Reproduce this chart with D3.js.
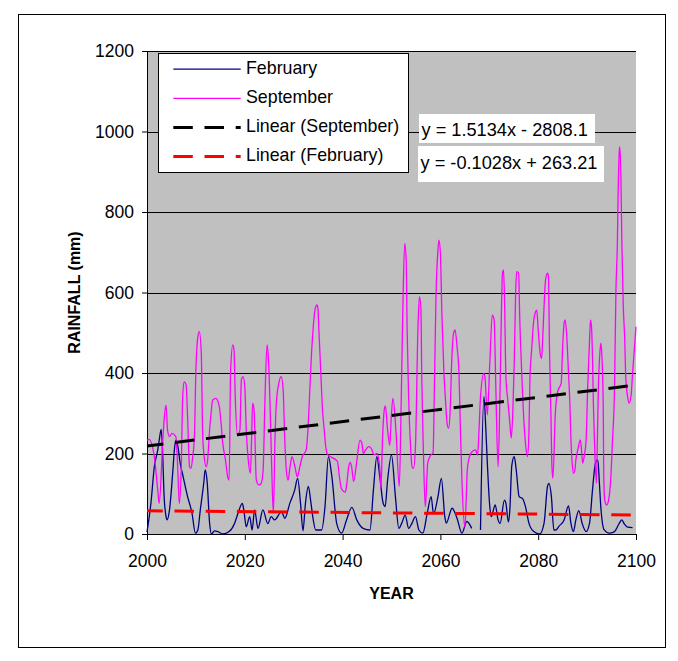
<!DOCTYPE html>
<html>
<head>
<meta charset="utf-8">
<script src="https://cdn.jsdelivr.net/npm/d3@7"></script>
<style>
  body { margin: 0; background: #fff; }
  svg { display: block; }
  text { font-family: "Liberation Sans", Arial, sans-serif; fill: #000; }
</style>
</head>
<body>
<svg id="chart" width="678" height="661"></svg>
<script>
// Monthly rainfall (mm) by year: [year, rainfall]
const februaryRain = [
  [2000.0,5],[2000.8,76],[2001.5,167],[2002.2,209],[2002.5,233],[2002.9,260],[2003.2,200],[2003.5,93],
  [2003.9,43],[2004.1,35],[2004.6,60],[2005.3,159],[2005.6,209],[2005.9,233],[2006.3,218],[2006.8,175],
  [2007.4,142],[2008.3,93],[2009.2,52],[2009.9,2],[2010.4,10],[2010.9,60],[2011.6,126],[2011.9,159],
  [2012.3,130],[2012.8,27],[2013.2,0],[2013.8,8],[2014.5,6],[2015.5,0],[2016.8,6],[2017.9,26],
  [2018.6,51],[2019.5,76],[2019.8,60],[2020.3,18],[2021.0,43],[2021.5,10],[2022.0,60],[2022.7,14],
  [2023.7,60],[2024.7,26],[2025.4,43],[2026.1,35],[2027.5,55],[2028.2,39],[2029.2,76],[2030.2,109],
  [2030.8,138],[2031.4,76],[2031.9,8],[2032.4,76],[2033.0,118],[2033.5,80],[2034.0,35],[2034.5,10],
  [2035.7,10],[2036.4,68],[2037.1,192],[2037.8,143],[2038.8,26],[2039.8,2],[2040.8,35],[2041.9,66],
  [2042.9,35],[2044.2,14],[2045.6,10],[2046.3,109],[2047.0,192],[2047.6,143],[2048.3,76],[2048.7,68],
  [2049.2,134],[2050.0,196],[2050.8,93],[2051.5,14],[2052.1,27],[2052.8,47],[2053.5,14],[2054.2,27],
  [2054.9,43],[2055.6,10],[2056.4,2],[2057.3,51],[2058.1,93],[2058.6,50],[2059.5,93],[2060.2,138],
  [2060.9,43],[2061.2,27],[2062.4,64],[2063.4,39],[2064.4,2],[2065.4,31],[2066.4,14],[2067.3,null],
  [2068.2,10],[2068.9,341],[2069.3,258],[2069.6,176],[2070.1,68],[2070.4,43],[2071.2,72],[2071.8,35],
  [2072.2,26],[2073.1,84],[2073.4,76],[2073.9,30],[2074.2,60],[2074.6,170],[2075.1,192],[2075.5,160],
  [2076.1,93],[2076.8,88],[2077.4,68],[2078.1,27],[2079.1,6],[2080.3,0],[2081.2,27],[2081.9,118],
  [2082.2,126],[2082.7,93],[2083.2,10],[2083.6,10],[2084.3,20],[2085.3,35],[2086.2,70],[2086.7,26],
  [2087.2,6],[2087.7,35],[2088.3,58],[2089.0,26],[2089.8,6],[2090.5,27],[2091.1,109],[2091.7,175],
  [2092.2,184],[2092.5,130],[2092.8,68],[2093.5,10],[2094.5,2],[2095.6,6],[2096.6,27],[2097.1,35],
  [2097.6,25],[2098.3,17],[2099.3,16]
];

const septemberRain = [
  [2000.0,233],[2000.4,235],[2001.5,192],[2002.2,109],[2002.5,76],[2003.2,225],[2003.55,291],[2003.9,320],
  [2004.2,258],[2004.6,242],[2005.1,250],[2005.9,242],[2006.3,159],[2006.6,76],[2007.0,159],[2007.3,341],
  [2007.6,378],[2008.0,370],[2008.3,291],[2008.7,167],[2009.0,163],[2009.35,192],[2009.7,242],[2010.0,407],
  [2010.4,490],[2010.7,503],[2011.1,449],[2011.4,242],[2011.7,192],[2012.1,167],[2012.4,184],[2012.8,258],
  [2013.1,300],[2013.45,333],[2014.1,337],[2014.8,316],[2015.15,275],[2015.5,225],[2016.05,184],[2016.5,142],
  [2016.8,134],[2017.1,407],[2017.55,470],[2017.8,457],[2018.05,341],[2018.5,246],[2019.0,258],[2019.3,383],
  [2019.65,391],[2020.0,366],[2020.3,258],[2020.65,192],[2021.15,151],[2021.4,242],[2021.6,325],[2021.9,308],
  [2022.35,134],[2022.9,122],[2023.35,126],[2023.75,159],[2024.1,325],[2024.55,470],[2024.85,432],[2025.25,283],
  [2025.55,142],[2025.85,51],[2026.15,225],[2026.45,325],[2026.95,374],[2027.45,391],[2027.85,358],[2028.15,242],
  [2028.55,151],[2028.85,134],[2029.25,167],[2029.65,192],[2030.25,167],[2030.75,142],[2031.25,167],[2031.75,192],
  [2032.55,209],[2032.95,267],[2033.3,360],[2033.65,450],[2034.0,515],[2034.35,557],[2034.75,569],[2034.95,561],
  [2035.15,507],[2035.55,399],[2035.85,316],[2036.25,258],[2036.55,217],[2036.95,197],[2037.55,192],[2038.65,184],
  [2038.95,180],[2039.35,142],[2039.75,113],[2040.55,104],[2040.85,124],[2041.25,167],[2041.55,178],[2041.85,167],
  [2042.25,130],[2042.85,176],[2043.55,233],[2043.95,225],[2044.25,200],[2044.65,208],[2045.35,217],[2045.85,213],
  [2046.45,197],[2047.05,200],[2047.65,157],[2047.85,113],[2048.15,232],[2048.55,311],[2048.75,318],[2049.15,265],
  [2049.65,220],[2049.95,290],[2050.3,337],[2050.9,258],[2051.6,118],[2052.0,341],[2052.3,548],[2052.7,722],
  [2053.0,681],[2053.2,507],[2053.5,341],[2053.9,217],[2054.2,167],[2054.5,163],[2054.9,217],[2055.4,507],
  [2055.7,590],[2056.0,565],[2056.2,383],[2056.5,217],[2056.9,68],[2057.1,100],[2057.4,176],[2058.0,195],
  [2058.5,202],[2058.8,383],[2059.1,590],[2059.5,706],[2059.7,730],[2060.0,697],[2060.3,548],[2060.7,407],
  [2061.0,341],[2061.4,272],[2061.7,263],[2062.0,308],[2062.3,424],[2062.7,499],[2063.0,507],[2063.4,466],
  [2063.8,400],[2064.1,258],[2064.4,134],[2065.0,18],[2065.3,93],[2065.5,159],[2065.9,190],[2066.5,205],
  [2067.2,209],[2067.6,196],[2067.9,259],[2068.2,341],[2068.9,399],[2069.1,391],[2069.6,296],[2070.1,424],
  [2070.6,544],[2071.0,532],[2071.3,383],[2071.8,167],[2072.2,358],[2072.7,648],[2072.9,656],[2073.1,590],
  [2073.4,390],[2073.8,330],[2074.2,275],[2074.5,238],[2074.8,300],[2075.1,424],[2075.4,606],[2075.6,652],
  [2076.0,648],[2076.2,548],[2076.6,410],[2077.1,275],[2077.4,225],[2077.8,192],[2078.1,250],[2078.3,380],
  [2078.7,465],[2079.0,520],[2079.4,550],[2079.7,556],[2080.0,507],[2080.4,449],[2080.7,436],[2080.9,480],
  [2081.2,565],[2081.5,631],[2081.9,648],[2082.1,640],[2082.3,465],[2082.6,300],[2082.8,170],[2083.0,138],
  [2083.5,300],[2084.0,355],[2084.7,374],[2085.0,465],[2085.3,524],[2085.5,532],[2085.8,499],[2086.2,399],
  [2086.5,316],[2086.7,234],[2086.9,184],[2087.2,151],[2087.5,159],[2087.7,184],[2088.1,209],[2088.6,234],
  [2088.8,217],[2089.1,176],[2089.4,192],[2089.8,234],[2090.1,358],[2090.5,482],[2090.7,532],[2090.9,515],
  [2091.1,441],[2091.3,316],[2091.5,234],[2091.9,126],[2092.1,234],[2092.3,358],[2092.6,449],[2092.8,474],
  [2093.0,449],[2093.3,316],[2093.4,151],[2093.6,84],[2094.0,72],[2094.4,84],[2094.9,151],[2095.2,234],
  [2095.6,358],[2095.9,606],[2096.2,730],[2096.3,813],[2096.6,954],[2096.7,962],[2096.9,896],[2097.1,730],
  [2097.4,565],[2097.7,482],[2097.9,391],[2098.3,340],[2098.6,325],[2099.0,345],[2099.3,399],[2099.7,465],
  [2100.0,515]
];

// Linear trend coefficients [slope, intercept]
const septemberTrend = [1.5134, -2808.1];
const februaryTrend = [-0.1028, 263.21];
const trendYears = [2000, 2100];

const yearTicks = [2000, 2020, 2040, 2060, 2080, 2100];
const rainTicks = [0, 200, 400, 600, 800, 1000, 1200];

const legendItems = [
  { label: "February", color: "#000080", width: 1.3, dash: null },
  { label: "September", color: "#ff00ff", width: 1.3, dash: null },
  { label: "Linear (September)", color: "#000000", width: 3, dash: "19.5,11.7" },
  { label: "Linear (February)", color: "#ff0000", width: 3, dash: "19.5,11.7" }
];

const svg = d3.select("#chart");
const plot = { left: 147, right: 636, top: 51, bottom: 534 };

const x = d3.scaleLinear().domain([2000, 2100]).range([plot.left, plot.right]);
const y = d3.scaleLinear().domain([0, 1200]).range([plot.bottom, plot.top]);

// chart frame
svg.append("rect")
  .attr("x", 18.5).attr("y", 14.5).attr("width", 647).attr("height", 633)
  .attr("fill", "#fff").attr("stroke", "#000").attr("stroke-width", 1);

// plot background
svg.append("rect")
  .attr("x", plot.left).attr("y", plot.top)
  .attr("width", plot.right - plot.left).attr("height", plot.bottom - plot.top)
  .attr("fill", "#c0c0c0");

// horizontal gridlines
svg.append("g")
  .selectAll("line")
  .data(rainTicks.filter(d => d > 0))
  .join("line")
  .attr("x1", plot.left).attr("x2", plot.right)
  .attr("y1", d => Math.round(y(d)) + 0.5).attr("y2", d => Math.round(y(d)) + 0.5)
  .attr("stroke", "#000").attr("stroke-width", 1);

// axes
const yAxis = d3.axisLeft(y).tickValues(rainTicks).tickSize(5).tickSizeOuter(0)
  .tickPadding(8).tickFormat(d3.format("d"));
const yG = svg.append("g").attr("transform", `translate(${plot.left},0)`).call(yAxis);

const xAxis = d3.axisBottom(x).tickValues(yearTicks).tickSize(6).tickSizeOuter(0)
  .tickPadding(15).tickFormat(d3.format("d"));
const xG = svg.append("g").attr("transform", `translate(0,${plot.bottom})`).call(xAxis);

[yG, xG].forEach(g => {
  g.select(".domain").attr("stroke", "#000");
  g.selectAll(".tick line").attr("stroke", "#000");
  g.selectAll(".tick text").attr("font-size", 17.5).attr("fill", "#000")
    .style("font-family", '"Liberation Sans", Arial, sans-serif');
});

// series lines
const line = d3.line()
  .defined(d => d[1] !== null)
  .x(d => x(d[0]))
  .y(d => y(d[1]))
  .curve(d3.curveMonotoneX);

svg.append("path").datum(februaryRain)
  .attr("d", line).attr("fill", "none")
  .attr("stroke", "#000080").attr("stroke-width", 1.3).attr("stroke-linejoin", "round");

svg.append("path").datum(septemberRain)
  .attr("d", line).attr("fill", "none")
  .attr("stroke", "#ff00ff").attr("stroke-width", 1.3).attr("stroke-linejoin", "round");

// trend lines
const trendLine = coef => d3.line()
  .x(d => x(d))
  .y(d => y(coef[0] * d + coef[1]));

svg.append("path").datum(trendYears)
  .attr("d", trendLine(septemberTrend)).attr("fill", "none")
  .attr("stroke", "#000").attr("stroke-width", 3)
  .attr("stroke-dasharray", "19.5,11.7").attr("stroke-dashoffset", 3);

svg.append("path").datum(trendYears)
  .attr("d", trendLine(februaryTrend)).attr("fill", "none")
  .attr("stroke", "#ff0000").attr("stroke-width", 3)
  .attr("stroke-dasharray", "19.5,11.7").attr("stroke-dashoffset", 3.7);

// axis titles
svg.append("text")
  .attr("transform", "translate(80,292.5) rotate(-90)")
  .attr("text-anchor", "middle").attr("font-size", 16).attr("font-weight", "bold")
  .text("RAINFALL (mm)");

svg.append("text")
  .attr("x", (plot.left + plot.right) / 2).attr("y", 599)
  .attr("text-anchor", "middle").attr("font-size", 16).attr("font-weight", "bold")
  .text("YEAR");

// legend
const legend = svg.append("g");
legend.append("rect")
  .attr("x", 158.5).attr("y", 53.5).attr("width", 250).attr("height", 119)
  .attr("fill", "#fff").attr("stroke", "#000").attr("stroke-width", 1);

const rows = legend.selectAll("g.row").data(legendItems).join("g")
  .attr("class", "row")
  .attr("transform", (d, i) => `translate(0,${69.2 + i * 29.1})`);

rows.append("line")
  .attr("x1", 173.3).attr("x2", 240.7).attr("y1", 0).attr("y2", 0)
  .attr("stroke", d => d.color).attr("stroke-width", d => d.width)
  .attr("stroke-dasharray", d => d.dash);

rows.append("text")
  .attr("x", 246).attr("y", 4.3).attr("font-size", 17.8)
  .text(d => d.label);

// trend equations
const fmtEq = coef => {
  const b = coef[1];
  return `y = ${coef[0]}x ${b < 0 ? "-" : "+"} ${Math.abs(b)}`;
};

const eqBoxes = [
  { coef: septemberTrend, bx: 419, by: 114, bw: 176, bh: 29, ty: 135.5 },
  { coef: februaryTrend, bx: 418, by: 146, bw: 186, bh: 36, ty: 168.5 }
];

const eq = svg.append("g").selectAll("g").data(eqBoxes).join("g");
eq.append("rect")
  .attr("x", d => d.bx).attr("y", d => d.by).attr("width", d => d.bw).attr("height", d => d.bh)
  .attr("fill", "#fff");
eq.append("text")
  .attr("x", d => d.bx + 2.5).attr("y", d => d.ty).attr("font-size", 18.2)
  .text(d => fmtEq(d.coef));
</script>
</body>
</html>
